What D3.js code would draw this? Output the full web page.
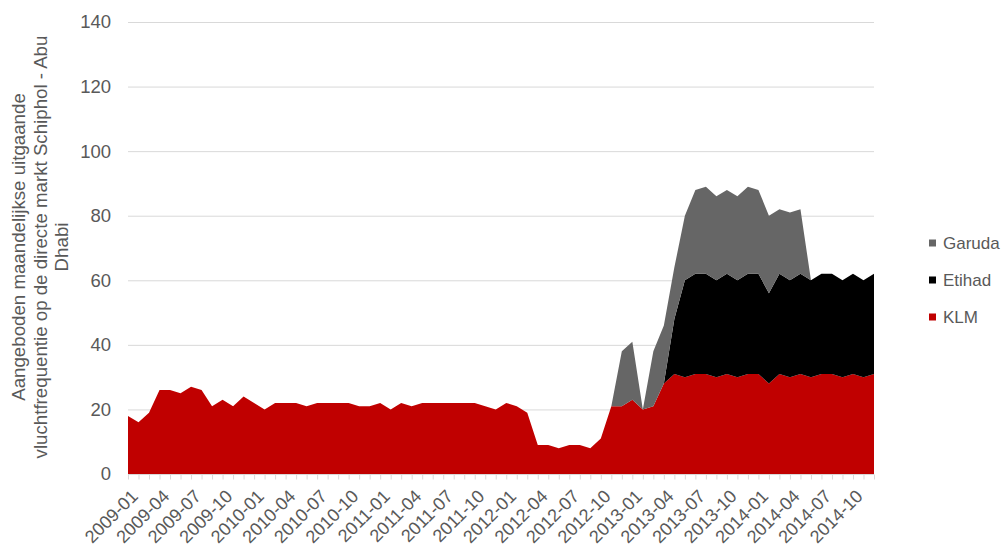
<!DOCTYPE html>
<html>
<head>
<meta charset="utf-8">
<script src="https://cdn.jsdelivr.net/npm/d3@7"></script>
<style>
  html, body { margin: 0; padding: 0; background: #fff; }
  svg { display: block; font-family: "Liberation Sans", Arial, sans-serif; }
</style>
</head>
<body>
<svg id="chart" width="1006" height="547"></svg>
<script>
// Months 2009-01 .. 2014-12
const months = [];
for (let yr = 2009; yr <= 2014; yr++) for (let m = 1; m <= 12; m++) months.push(yr + "-" + String(m).padStart(2, "0"));

const seriesNames = ["KLM", "Etihad", "Garuda"];
const klm = [18,16,19,26,26,25,27,26,21,23,21,24,
             22,20,22,22,22,21,22,22,22,22,21,21,
             22,20,22,21,22,22,22,22,22,22,21,20,
             22,21,19,9,9,8,9,9,8,11,21,21,
             23,20,21,28,31,30,31,31,30,31,30,31,
             31,28,31,30,31,30,31,31,30,31,30,31];
const etihad = [0,0,0,0,0,0,0,0,0,0,0,0,
                0,0,0,0,0,0,0,0,0,0,0,0,
                0,0,0,0,0,0,0,0,0,0,0,0,
                0,0,0,0,0,0,0,0,0,0,0,0,
                0,0,0,0,17,30,31,31,30,31,30,31,
                31,28,31,30,31,30,31,31,30,31,30,31];
const garuda = [0,0,0,0,0,0,0,0,0,0,0,0,
                0,0,0,0,0,0,0,0,0,0,0,0,
                0,0,0,0,0,0,0,0,0,0,0,0,
                0,0,0,0,0,0,0,0,0,0,0,17,
                18,0,17,18,16,20,26,27,26,26,26,27,
                26,24,20,21,20,0,0,0,0,0,0,0];
const yTicks = [0,20,40,60,80,100,120,140];
const xLabelEvery = 3;
const yTitleLines = ["Aangeboden maandelijkse uitgaande", "vluchtfrequentie op de directe markt Schiphol - Abu", "Dhabi"];
const colors = { KLM: "#c00000", Etihad: "#000000", Garuda: "#666666" };
const legendOrder = ["Garuda", "Etihad", "KLM"];

const table = months.map((m, i) => ({ month: m, KLM: klm[i], Etihad: etihad[i], Garuda: garuda[i] }));

const svg = d3.select("#chart");
const pLeft = 128, pRight = 874, pTop = 22, pBottom = 474;
const textColor = "#595959";

const x = d3.scalePoint().domain(months).range([pLeft, pRight]);
const y = d3.scaleLinear().domain([0, 140]).range([pBottom, pTop]);

// gridlines
svg.append("g").selectAll("line").data(yTicks).join("line")
  .attr("x1", pLeft).attr("x2", pRight)
  .attr("y1", d => y(d) + 0.5).attr("y2", d => y(d) + 0.5)
  .attr("stroke", "#d9d9d9").attr("stroke-width", 1);

// stacked areas
const stack = d3.stack().keys(seriesNames);
const layers = stack(table);
const area = d3.area()
  .x(d => x(d.data.month))
  .y0(d => y(d[0]))
  .y1(d => y(d[1]));
svg.append("g").selectAll("path").data(layers).join("path")
  .attr("d", area)
  .attr("fill", d => colors[d.key]);

// x axis
const xAxis = d3.axisBottom(x)
  .tickSize(5)
  .tickFormat((d, i) => i % xLabelEvery === 0 ? d : "");
const gx = svg.append("g").attr("transform", `translate(0,${pBottom})`).call(xAxis);
gx.select(".domain").attr("stroke", "#d9d9d9").attr("d", `M${pLeft},0.5H${pRight}`);
gx.selectAll(".tick line").attr("stroke", "#d9d9d9").attr("transform", "translate(0,0.5)");
gx.selectAll(".tick text")
  .attr("fill", textColor)
  .attr("font-size", "18px")
  .attr("text-anchor", "end")
  .attr("dy", "0.35em")
  .attr("transform", "translate(6,19) rotate(-45)")
  .attr("x", 0).attr("y", 0);

// y axis labels
const yAxis = d3.axisLeft(y).tickValues(yTicks).tickSize(0).tickPadding(17);
const gy = svg.append("g").attr("transform", `translate(${pLeft},0)`).call(yAxis);
gy.select(".domain").remove();
gy.selectAll(".tick text").attr("fill", textColor).attr("font-size", "18.5px");

// y title
const yt = svg.append("text")
  .attr("transform", `translate(25,247) rotate(-90)`)
  .attr("text-anchor", "middle")
  .attr("fill", textColor)
  .attr("font-size", "18.7px");
yTitleLines.forEach((t, i) => {
  yt.append("tspan").attr("x", 0).attr("y", i * 21.5).text(t);
});

// legend
const lg = svg.append("g");
legendOrder.forEach((k, i) => {
  const cy = 243 + i * 37;
  lg.append("rect").attr("x", 929).attr("y", cy - 3.5).attr("width", 7).attr("height", 7).attr("fill", colors[k]);
  lg.append("text").attr("x", 943).attr("y", cy).attr("dy", "0.35em")
    .attr("fill", textColor).attr("font-size", "17px").text(k);
});
</script>
</body>
</html>
